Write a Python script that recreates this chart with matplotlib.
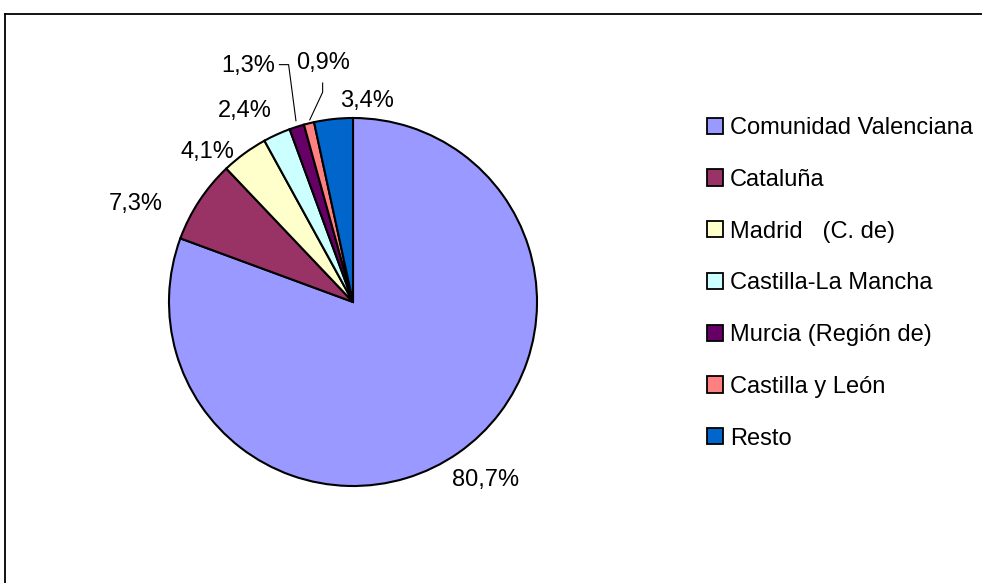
import matplotlib.pyplot as plt
import matplotlib.patches as mpatches
import numpy as np

plt.rcParams['font.family'] = ['Liberation Sans', 'DejaVu Sans']

# -- Data --
regions = ['Comunidad Valenciana', 'Cataluña', 'Madrid   (C. de)', 'Castilla-La Mancha',
           'Murcia (Región de)', 'Castilla y León', 'Resto']
shares = [80.7, 7.3, 4.1, 2.4, 1.3, 0.9, 3.4]
labels = ['80,7%', '7,3%', '4,1%', '2,4%', '1,3%', '0,9%', '3,4%']
colors = ['#9999FF', '#993366', '#FFFFCC', '#CCFFFF', '#660066', '#FF8080', '#0066CC']

# label positions (in pie radius units)
label_pos = [(0.72, -0.965), (-1.18, 0.53), (-0.79, 0.815), (-0.59, 1.04),
             (-0.57, 1.285), (-0.165, 1.30), (0.075, 1.09)]

W, H = 982, 583
FS = 17
fig = plt.figure(figsize=(W / 100, H / 100), dpi=100)

# -- Outer border --
fig.add_artist(plt.Line2D([5 / W, 1], [1 - 14 / H] * 2, color='black', lw=1.3))
fig.add_artist(plt.Line2D([5 / W] * 2, [0, 1 - 14 / H], color='black', lw=1.3))

# -- Pie --
cx, cy, r = 353, 302, 184
ax = fig.add_axes([(cx - r * 1.6) / W, (H - cy - r * 1.6) / H, r * 3.2 / W, r * 3.2 / H])

wedges, _ = ax.pie(shares, colors=colors, startangle=90, counterclock=False, radius=1,
                   wedgeprops=dict(edgecolor='black', linewidth=1.5))
ax.set_xlim(-1.6, 1.6)
ax.set_ylim(-1.6, 1.6)
ax.set_aspect('equal')
ax.axis('off')

for txt, (x, y) in zip(labels, label_pos):
    ax.text(x, y, txt, ha='center', va='center', fontsize=FS)

# leader lines for the two thin slices
ax.plot([-0.31, -0.35, -0.40], [0.985, 1.29, 1.29], color='black', lw=0.8)
ax.plot([-0.235, -0.165, -0.165], [0.99, 1.14, 1.19], color='black', lw=0.8)

# -- Legend --
handles = [mpatches.Patch(facecolor=c, edgecolor='black', linewidth=1.3) for c in colors]
fig.legend(handles, regions, loc='upper left', bbox_to_anchor=(707 / W, 1 - 117 / H),
           frameon=False, fontsize=FS, handlelength=0.68, handleheight=0.68,
           handletextpad=0.28, labelspacing=1.26, borderaxespad=0, borderpad=0)

fig.savefig('out.png', dpi=100)
